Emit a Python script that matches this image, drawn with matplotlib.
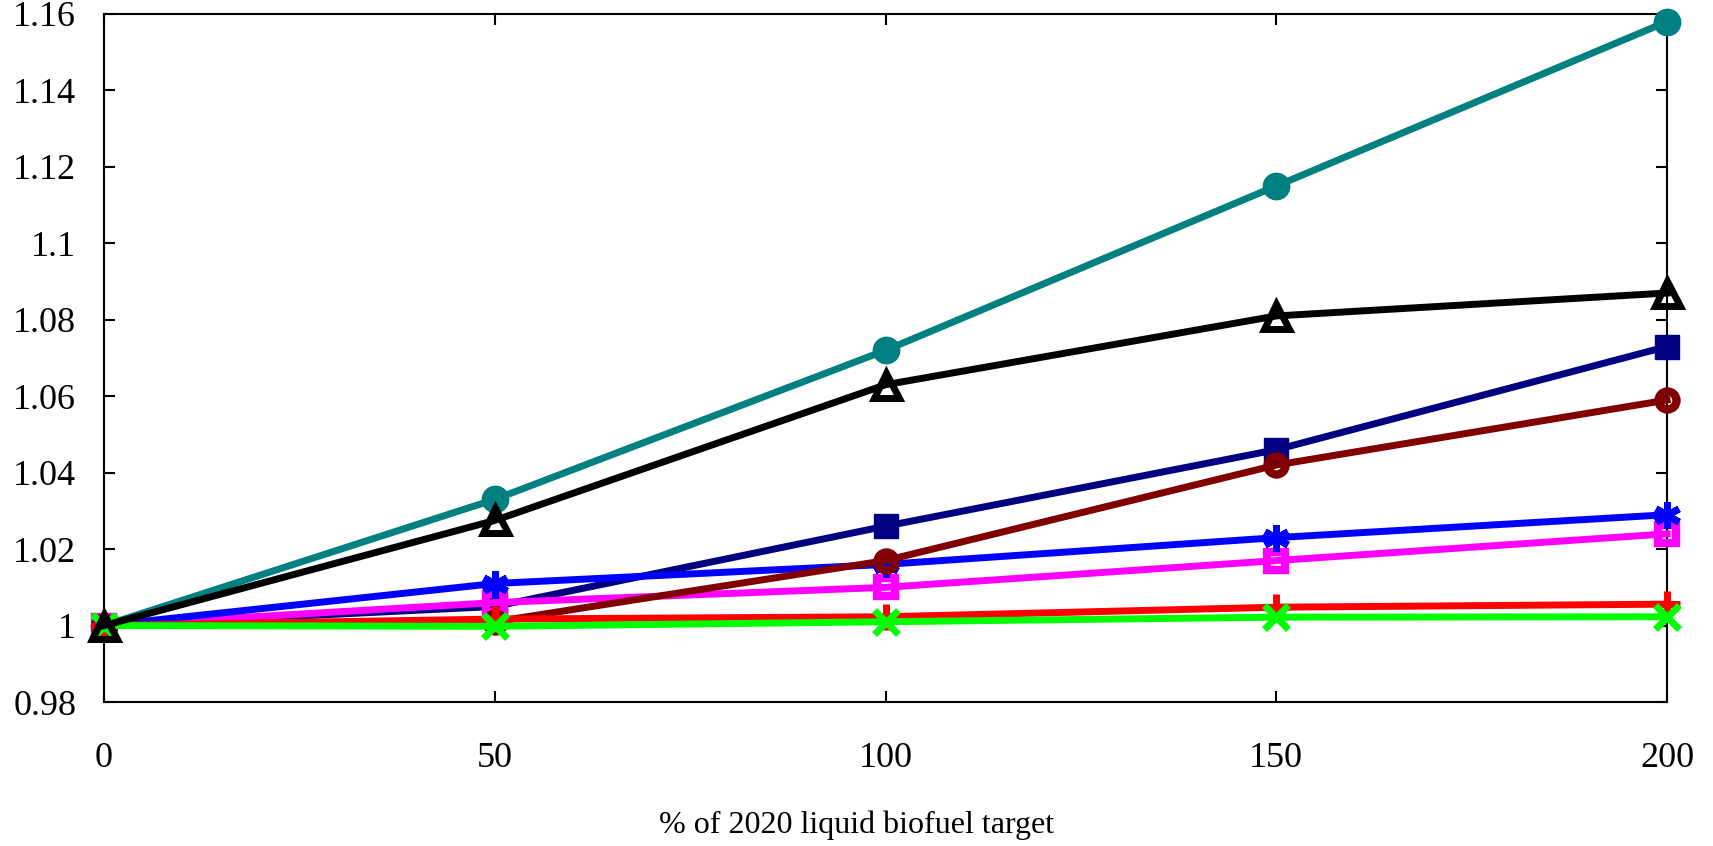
import numpy as np
import matplotlib
matplotlib.use('Agg')
import matplotlib.pyplot as plt

plt.rcParams['font.family'] = ['Liberation Serif', 'DejaVu Serif']

# % of 2020 liquid biofuel target
x = [0, 50, 100, 150, 200]

teal_vals = [1.0, 1.033, 1.072, 1.115, 1.158]
navy_vals = [1.0, 1.005, 1.026, 1.046, 1.073]
magenta_vals = [1.0, 1.006, 1.010, 1.017, 1.024]
blue_vals = [1.0, 1.011, 1.016, 1.023, 1.029]
maroon_vals = [1.0, 1.001, 1.017, 1.042, 1.059]
red_vals = [1.0, 1.0017, 1.0023, 1.0048, 1.0056]
green_vals = [1.0, 0.9998, 1.001, 1.0022, 1.0023]
black_vals = [1.0, 1.0275, 1.063, 1.081, 1.087]

xticks = [0, 50, 100, 150, 200]
yticks = [0.98, 1.0, 1.02, 1.04, 1.06, 1.08, 1.1, 1.12, 1.14, 1.16]
ytick_labels = ['0.98', '1', '1.02', '1.04', '1.06', '1.08', '1.1', '1.12', '1.14', '1.16']

fig = plt.figure(figsize=(17.13, 8.46), dpi=100)
ax = fig.add_axes([0.0607, 0.1702, 0.9125, 0.8133])

lw = 5
ax.plot(x, teal_vals, color='#008080', lw=lw, marker='o', ms=19, mec='#008080')
ax.plot(x, navy_vals, color='#000080', lw=lw, marker='s', ms=17, mec='#000080')
ax.plot(x, magenta_vals, color='#ff00ff', lw=lw, marker='s', ms=13,
        mfc='none', mec='#ff00ff', mew=6)
ax.plot(x, blue_vals, color='#0000ff', lw=lw, marker=(6, 2, 0), ms=19,
        mec='#0000ff', mew=5)
ax.plot(x, maroon_vals, color='#800000', lw=lw, marker='o', ms=13,
        mfc='none', mec='#800000', mew=6)
ax.plot(x, red_vals, color='#ff0000', lw=lw, marker='+', ms=19,
        mec='#ff0000', mew=5)
ax.plot(x, green_vals, color='#00ff00', lw=lw, marker='x', ms=17,
        mec='#00ff00', mew=5)
ax.plot(x, black_vals, color='black', lw=lw, marker='^', ms=18,
        mfc='none', mec='black', mew=5)

ax.set_xlim(0, 200)
ax.set_ylim(0.98, 1.16)
ax.set_xticks(xticks)
ax.set_yticks(yticks)
ax.set_yticklabels(ytick_labels)

for sp in ax.spines.values():
    sp.set_linewidth(1.5)
    sp.set_zorder(1)

ax.tick_params(axis='both', direction='in', length=8, width=1.5,
               top=True, right=True, labelsize=26)
ax.tick_params(axis='x', pad=29)
ax.tick_params(axis='y', pad=20)

ax.set_xlabel('% of 2020 liquid biofuel target', fontsize=23)
# label sits at the centre of the whole figure, not of the axes
ax.xaxis.set_label_coords(0.4815, -0.157)

for line in ax.lines:
    line.set_clip_on(False)

fig.savefig('out.png', dpi=100)
